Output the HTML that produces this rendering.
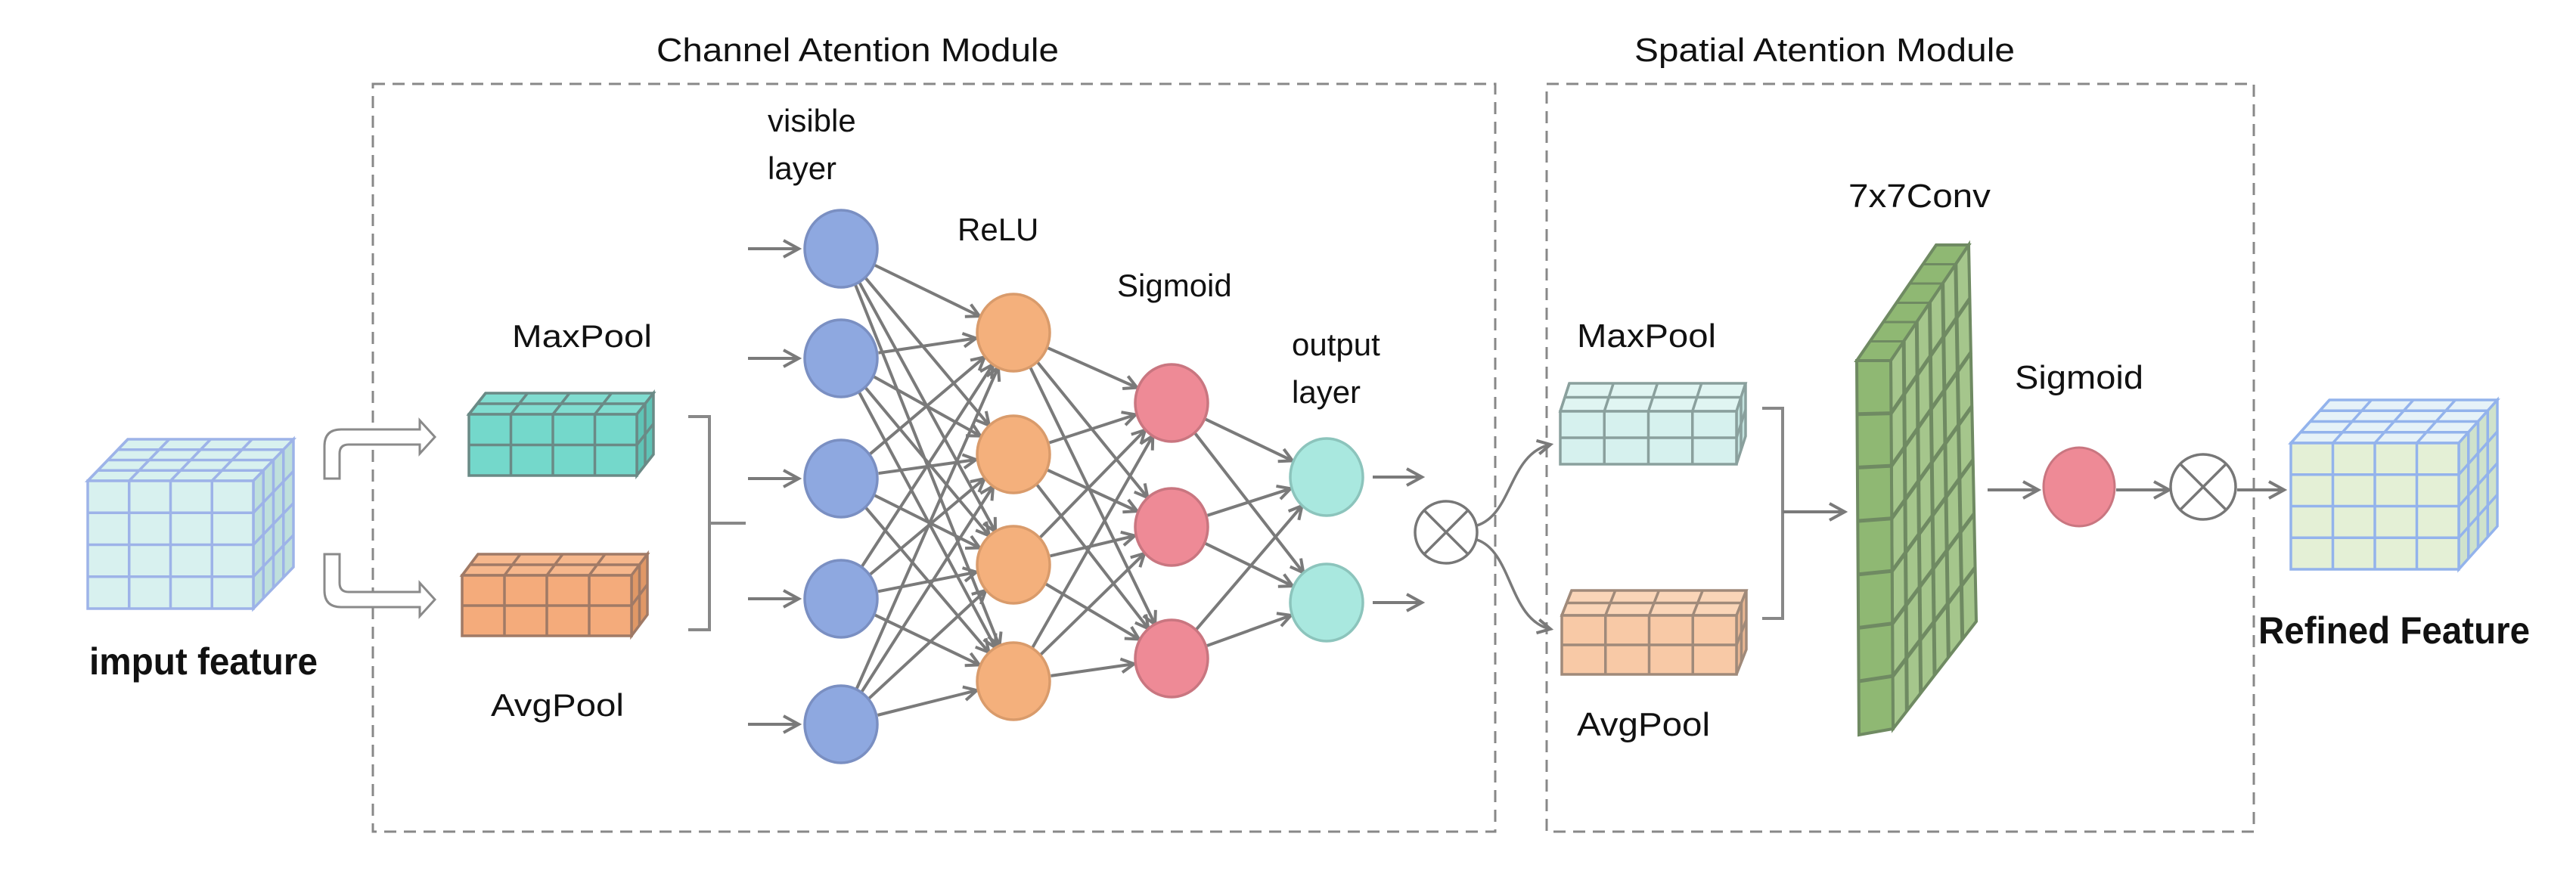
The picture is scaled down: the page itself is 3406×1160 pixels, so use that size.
<!DOCTYPE html>
<html><head><meta charset="utf-8"><style>
html,body{margin:0;padding:0;background:#fff;width:3406px;height:1160px;overflow:hidden}
svg{display:block}
text{font-family:"Liberation Sans",Arial,sans-serif;fill:#111}
</style></head><body>
<svg id="s" width="3406" height="1160" viewBox="0 0 3406 1160" xmlns="http://www.w3.org/2000/svg">
<defs>
<marker id="ah" markerWidth="24" markerHeight="24" refX="20" refY="12" orient="auto" markerUnits="userSpaceOnUse">
<path d="M3,3 L20,12 L3,21" fill="none" stroke="#7a7a7a" stroke-width="4"/>
</marker>
<marker id="ab" markerWidth="30" markerHeight="30" refX="26" refY="15" orient="auto" markerUnits="userSpaceOnUse">
<path d="M6,4 L26,15 L6,26" fill="none" stroke="#7a7a7a" stroke-width="4"/>
</marker>
</defs>
<rect x="493" y="111" width="1484" height="989" fill="none" stroke="#888" stroke-width="3" stroke-dasharray="16,10"/>
<rect x="2045" y="111" width="935" height="989" fill="none" stroke="#888" stroke-width="3" stroke-dasharray="16,10"/>
<text x="868" y="81" font-size="44" textLength="532" lengthAdjust="spacingAndGlyphs">Channel Atention Module</text>
<text x="2161" y="81" font-size="44" textLength="503" lengthAdjust="spacingAndGlyphs">Spatial Atention Module</text>
<g id="g"></g>
<text x="118" y="892" font-size="50" font-weight="bold" textLength="302" lengthAdjust="spacingAndGlyphs">imput feature</text>
<text x="677" y="459" font-size="42" textLength="185" lengthAdjust="spacingAndGlyphs">MaxPool</text>
<text x="649" y="947" font-size="42" textLength="176" lengthAdjust="spacingAndGlyphs">AvgPool</text>
<text x="1015" y="174" font-size="42">visible</text>
<text x="1015" y="237" font-size="42">layer</text>
<text x="1266" y="318" font-size="42">ReLU</text>
<text x="1477" y="392" font-size="42">Sigmoid</text>
<text x="1708" y="470" font-size="42">output</text>
<text x="1708" y="533" font-size="42">layer</text>
<text x="2085" y="459" font-size="44" textLength="184" lengthAdjust="spacingAndGlyphs">MaxPool</text>
<text x="2085" y="973" font-size="44" textLength="176" lengthAdjust="spacingAndGlyphs">AvgPool</text>
<text x="2444" y="274" font-size="44" textLength="188" lengthAdjust="spacingAndGlyphs">7x7Conv</text>
<text x="2664" y="514" font-size="44" textLength="170" lengthAdjust="spacingAndGlyphs">Sigmoid</text>
<text x="2986" y="851" font-size="50" font-weight="bold" textLength="359" lengthAdjust="spacingAndGlyphs">Refined Feature</text>
</svg>
<script>
const S="http://www.w3.org/2000/svg",G=document.getElementById('g');
function el(t,a){const e=document.createElementNS(S,t);for(const k in a)e.setAttribute(k,a[k]);G.appendChild(e);return e;}
function ln(x1,y1,x2,y2,st,w,m){const a={x1,y1,x2,y2,stroke:st,'stroke-width':w};if(m)a['marker-end']='url(#'+m+')';return el('line',a);}
function cube(x,y,w,h,c,r,dx,dy,dl,front,top,side,st,sw){
 el('polygon',{points:`${x},${y} ${x+dx},${y+dy} ${x+w+dx},${y+dy} ${x+w},${y}`,fill:top,stroke:st,'stroke-width':sw});
 el('polygon',{points:`${x+w},${y} ${x+w+dx},${y+dy} ${x+w+dx},${y+h+dy} ${x+w},${y+h}`,fill:side,stroke:st,'stroke-width':sw});
 el('rect',{x,y,width:w,height:h,fill:front,stroke:st,'stroke-width':sw});
 for(let i=1;i<c;i++){const xx=x+i*w/c;ln(xx,y,xx,y+h,st,sw);ln(xx,y,xx+dx,y+dy,st,sw);}
 ln(x,y,x+dx,y+dy,st,sw);
 for(let j=1;j<r;j++){const yy=y+j*h/r;ln(x,yy,x+w,yy,st,sw);ln(x+w,yy,x+w+dx,yy+dy,st,sw);}
 for(let k=1;k<dl;k++){const ox=k*dx/dl,oy=k*dy/dl;ln(x+ox,y+oy,x+w+ox,y+oy,st,sw);ln(x+w+ox,y+oy,x+w+ox,y+h+oy,st,sw);}
}
cube(116,636,219,169,4,4,53,-55,4,'#d8f1ef','#d8f1ef','#bfe0dc','#9db3e8',3.5);
cube(620,548,222,81,4,2,22,-28,2,'#74d8cb','#80ddd0','#5fc4b6','#6a8a86',3.5);
cube(611,761,224,80,4,2,21,-28,2,'#f4ab7b','#f6b78c','#e09866','#a07a66',3.5);
cube(2063,544,233,70,4,2,12,-37,2,'#d6f1ee','#e0f5f2','#c4e4e0','#8aa09d',3.5);
cube(2065,814,231,78,4,2,13,-33,2,'#f8c9a6','#fad5b8','#eab793','#a08a7a',3.5);
cube(3029,586,222,167,4,4,51,-57,4,'#e4f0d6','#e6f2f8','#cfe2cc','#93b3ec',3.5);
el('path',{d:'M429,633 L429,590 Q429,568 451,568 L555,568 L555,556 L575,578 L555,600 L555,588 L461,588 Q449,588 449,600 L449,633 Z',fill:'#fff',stroke:'#8a8a8a','stroke-width':3});
el('path',{d:'M429,733 L429,781 Q429,803 451,803 L555,803 L555,815 L575,793 L555,771 L555,783 L461,783 Q449,783 449,771 L449,733 Z',fill:'#fff',stroke:'#8a8a8a','stroke-width':3});
el('path',{d:'M910,551 L938,551 L938,833 L910,833 M938,692 L986,692',fill:'none',stroke:'#888','stroke-width':4});
el('path',{d:'M2330,540 L2357,540 L2357,818 L2330,818',fill:'none',stroke:'#888','stroke-width':4});
ln(2357,677,2439,677,'#7a7a7a',4,'ab');
const V=[329,474,633,792,958].map(y=>[1112,y]),R=[440,601,747,901].map(y=>[1340,y]),Sg=[533,697,871].map(y=>[1549,y]),O=[631,797].map(y=>[1754,y]);
const rr=50;
function conn(A,B){for(const a of A)for(const b of B){const dx=b[0]-a[0],dy=b[1]-a[1],d=Math.hypot(dx,dy);ln(a[0]+dx/d*rr,a[1]+dy/d*rr,b[0]-dx/d*rr,b[1]-dy/d*rr,'#7a7a7a',4,'ah');}}
conn(V,R);conn(R,Sg);conn(Sg,O);
for(const v of V)ln(989,v[1],1056,v[1],'#7a7a7a',4,'ab');
for(const o of O)ln(1815,o[1],1880,o[1],'#7a7a7a',4,'ab');
function circ(P,f,s){for(const p of P)el('ellipse',{cx:p[0],cy:p[1],rx:48,ry:51,fill:f,stroke:s,'stroke-width':3.5});}
circ(V,'#8ea8e0','#7a8fc2');circ(R,'#f4b07c','#d99b6b');circ(Sg,'#ee8a96','#c97680');circ(O,'#a9e8df','#8cc4bc');
function otimes(cx,cy,r){el('circle',{cx,cy,r,fill:'#fff',stroke:'#777','stroke-width':3.5});const d=r*0.707;ln(cx-d,cy-d,cx+d,cy+d,'#777',3.5);ln(cx-d,cy+d,cx+d,cy-d,'#777',3.5);}
otimes(1912,704,41);
el('path',{d:'M1953,695 C2000,680 1995,600 2050,588',fill:'none',stroke:'#7a7a7a','stroke-width':3.5,'marker-end':'url(#ah)'});
el('path',{d:'M1953,714 C2000,730 1995,820 2050,832',fill:'none',stroke:'#7a7a7a','stroke-width':3.5,'marker-end':'url(#ah)'});
const st='#6f8a62';
el('polygon',{points:'2455,477 2560,324 2603,324 2500,477',fill:'#8fb873',stroke:st,'stroke-width':4});
const A=[2500,477],B=[2603,324],C=[2613,822],D=[2503,964];
el('polygon',{points:`${A} ${B} ${C} ${D}`,fill:'#a5c68c',stroke:st,'stroke-width':4});
function bl(u,v){const tx=A[0]+(B[0]-A[0])*u,ty=A[1]+(B[1]-A[1])*u,bx=D[0]+(C[0]-D[0])*u,by=D[1]+(C[1]-D[1])*u;return[tx+(bx-tx)*v,ty+(by-ty)*v];}
for(let i=1;i<6;i++){const p=bl(i/6,0),q=bl(i/6,1);ln(p[0],p[1],q[0],q[1],st,5);}
for(let j=1;j<7;j++){const p=bl(0,j/7),q=bl(1,j/7);ln(p[0],p[1],q[0],q[1],st,5);}
el('polygon',{points:'2455,477 2500,477 2503,964 2458,972',fill:'#8fb873',stroke:st,'stroke-width':4});
for(let j=1;j<7;j++){const y1=477+j*(964-477)/7,y0=477+j*(972-477)/7;ln(2456,y0,2501,y1,st,5);}
for(let i=1;i<6;i++){const p=bl(i/6,0);ln(p[0]-43,p[1],p[0],p[1],st,3);}
ln(2628,648,2695,648,'#7a7a7a',4,'ab');
el('ellipse',{cx:2749,cy:644,rx:47,ry:52,fill:'#ee8a96',stroke:'#c97680','stroke-width':3});
ln(2798,648,2868,648,'#7a7a7a',4,'ab');
otimes(2913,644,43);
ln(2958,648,3020,648,'#7a7a7a',4,'ab');
</script>
</body></html>
